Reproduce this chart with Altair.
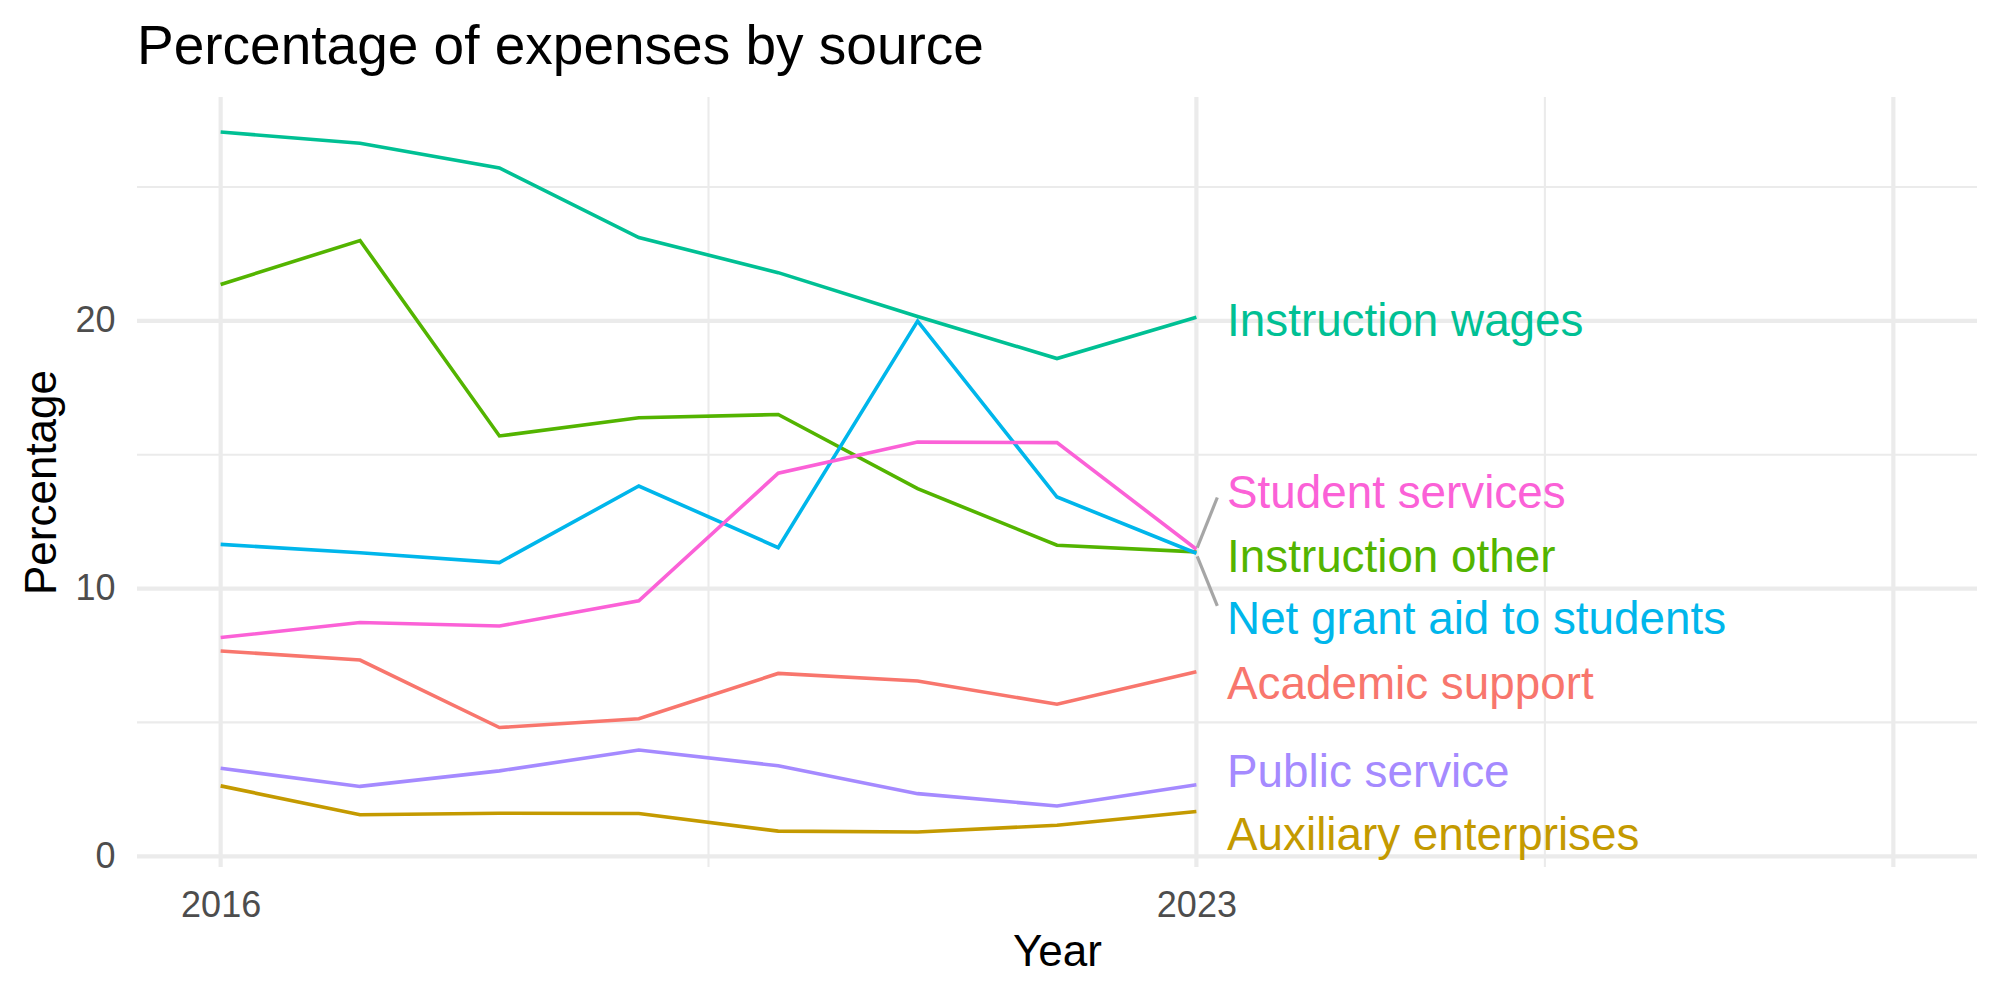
import altair as alt
import pandas as pd

# Expense shares by source, 2016-2023
years = [2016, 2017, 2018, 2019, 2020, 2021, 2022, 2023]

academic_support = [7.67, 7.33, 4.81, 5.14, 6.83, 6.55, 5.68, 6.89]
auxiliary_enterprises = [2.63, 1.55, 1.61, 1.60, 0.94, 0.91, 1.16, 1.67]
instruction_other = [21.36, 23.00, 15.70, 16.38, 16.50, 13.73, 11.62, 11.37]
instruction_wages = [27.05, 26.63, 25.71, 23.11, 21.80, 20.16, 18.59, 20.13]
net_grant_aid = [11.65, 11.34, 10.97, 13.83, 11.53, 19.99, 13.42, 11.32]
public_service = [3.29, 2.61, 3.19, 3.97, 3.38, 2.34, 1.88, 2.67]
student_services = [8.17, 8.73, 8.60, 9.54, 14.31, 15.47, 15.45, 11.47]

sources = [
    "Academic support",
    "Auxiliary enterprises",
    "Instruction other",
    "Instruction wages",
    "Net grant aid to students",
    "Public service",
    "Student services",
]
series = [
    academic_support,
    auxiliary_enterprises,
    instruction_other,
    instruction_wages,
    net_grant_aid,
    public_service,
    student_services,
]
colors = ["#F8766D", "#C49A00", "#53B400", "#00C094", "#00B6EB", "#A58AFF", "#FB61D7"]

# End-of-line labels (repelled positions)
label_x = 2023.22
label_y = [6.52, 0.86, 11.27, 20.06, 8.93, 3.22, 13.63]

# Leader segments for labels pushed away from their line ends
seg_source = ["Student services", "Net grant aid to students"]
seg_x = [2023.006, 2023.006]
seg_y = [11.53, 11.20]
seg_x2 = [2023.15, 2023.15]
seg_y2 = [13.40, 9.35]

# Panel gridlines
x_major = [2016, 2023, 2028]
x_minor = [2019.5, 2025.5]
y_major = [0, 10, 20]
y_minor = [5, 15, 25]

FONT = "Liberation Sans"

rows = []
for name, vals in zip(sources, series):
    for yr, v in zip(years, vals):
        rows.append({"Year": yr, "Percentage": v, "source": name})
df = pd.DataFrame(rows)

labels_df = pd.DataFrame({"source": sources, "x": [label_x] * len(sources), "y": label_y})
seg_df = pd.DataFrame({"source": seg_source, "x": seg_x, "y": seg_y, "x2": seg_x2, "y2": seg_y2})

x_scale = alt.Scale(domain=[2015.4, 2028.6], nice=False, zero=False)
y_scale = alt.Scale(domain=[-0.4, 28.36], nice=False, zero=False)
color_scale = alt.Scale(domain=sources, range=colors)

grid_color = "#EBEBEB"

vmaj = alt.Chart(pd.DataFrame({"g": x_major})).mark_rule(color=grid_color, strokeWidth=4.2).encode(
    x=alt.X("g:Q", scale=x_scale)
)
vmin = alt.Chart(pd.DataFrame({"g": x_minor})).mark_rule(color=grid_color, strokeWidth=2.1).encode(
    x=alt.X("g:Q", scale=x_scale)
)
hmaj = alt.Chart(pd.DataFrame({"g": y_major})).mark_rule(color=grid_color, strokeWidth=4.2).encode(
    y=alt.Y("g:Q", scale=y_scale)
)
hmin = alt.Chart(pd.DataFrame({"g": y_minor})).mark_rule(color=grid_color, strokeWidth=2.1).encode(
    y=alt.Y("g:Q", scale=y_scale)
)

lines = alt.Chart(df).mark_line(strokeWidth=3.6).encode(
    x=alt.X(
        "Year:Q",
        scale=x_scale,
        axis=alt.Axis(
            values=[2016, 2023],
            format="d",
            grid=False,
            domain=False,
            ticks=False,
            labelFont=FONT,
            labelFontSize=36,
            labelColor="#4D4D4D",
            labelPadding=21,
            title="Year",
            titleFont=FONT,
            titleFontSize=44,
            titleFontWeight="normal",
            titleColor="#000000",
            titleBaseline="alphabetic",
            titleY=98,
        ),
    ),
    y=alt.Y(
        "Percentage:Q",
        scale=y_scale,
        axis=alt.Axis(
            values=[0, 10, 20],
            grid=False,
            domain=False,
            ticks=False,
            labelFont=FONT,
            labelFontSize=36,
            labelColor="#4D4D4D",
            labelPadding=22,
            title="Percentage",
            titleFont=FONT,
            titleFontSize=44,
            titleFontWeight="normal",
            titleColor="#000000",
            titleBaseline="alphabetic",
            titleX=-82,
        ),
    ),
    color=alt.Color("source:N", scale=color_scale, legend=None),
    detail="source:N",
)

segments = alt.Chart(seg_df).mark_rule(color="#A6A6A6", strokeWidth=3.2).encode(
    x=alt.X("x:Q", scale=x_scale),
    y=alt.Y("y:Q", scale=y_scale),
    x2="x2:Q",
    y2="y2:Q",
)

labels = alt.Chart(labels_df).mark_text(
    align="left", baseline="middle", font=FONT, fontSize=45.8, dy=3
).encode(
    x=alt.X("x:Q", scale=x_scale),
    y=alt.Y("y:Q", scale=y_scale),
    text="source:N",
    color=alt.Color("source:N", scale=color_scale, legend=None),
)

chart = (
    alt.layer(vmin, hmin, vmaj, hmaj, lines, segments, labels)
    .properties(
        width=1840,
        height=770,
        background="white",
        autosize=alt.AutoSizeParams(type="none"),
        padding={"left": 137, "top": 97, "right": 23, "bottom": 133},
        title=alt.TitleParams(
            "Percentage of expenses by source",
            anchor="start",
            frame="group",
            font=FONT,
            fontSize=55,
            fontWeight="normal",
            color="#000000",
            baseline="alphabetic",
            offset=33,
            dy=57,
        ),
    )
    .configure_view(strokeWidth=0, stroke="transparent")
)

chart.save("out.html", embed_options={"renderer": "svg", "actions": False})
